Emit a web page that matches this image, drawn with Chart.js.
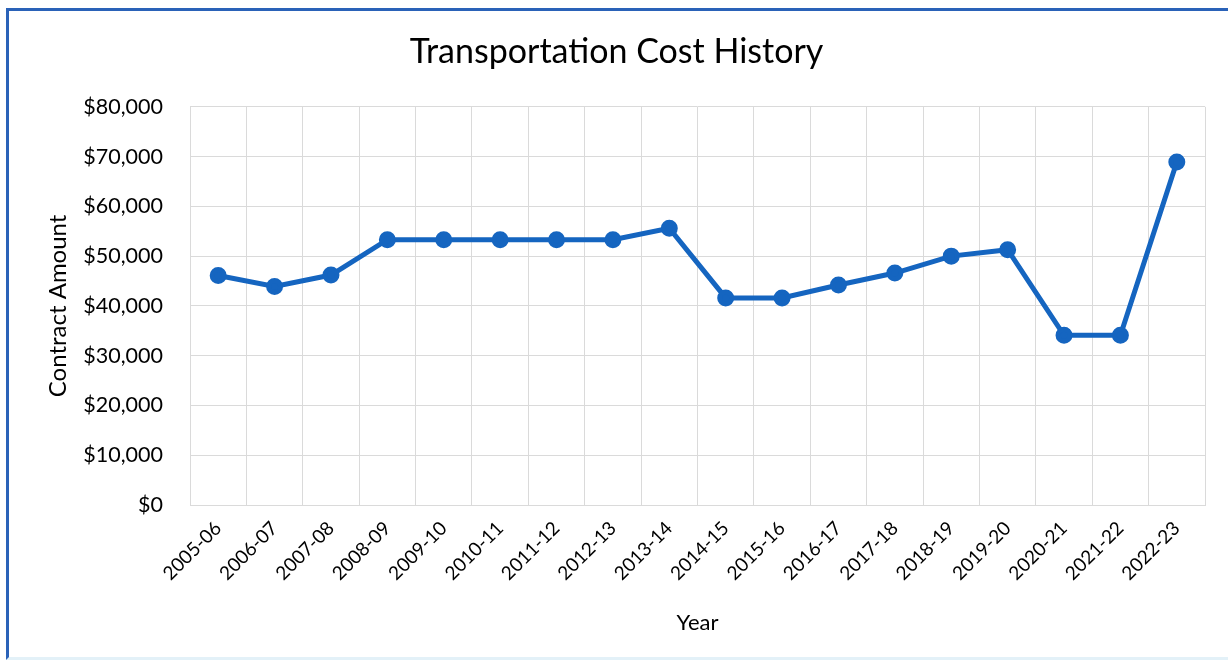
<!DOCTYPE html>
<html>
<head>
<meta charset="utf-8">
<script src="https://cdn.jsdelivr.net/npm/chart.js@4.4.1/dist/chart.umd.min.js"></script>
<style>
  html, body { margin: 0; padding: 0; background: #ffffff; overflow: hidden; }
  #wrap { position: absolute; left: 0; top: 0; width: 1228px; height: 667px; }
  #frame { position: absolute; left: 6px; top: 8px; width: 1240px; height: 652px;
           border-top: 3px solid #2a62b8; border-left: 3px solid #2a62b8;
           border-bottom: 3px solid #e3f1f8; box-sizing: border-box; pointer-events: none; }
</style>
</head>
<body>
<div id="wrap"><canvas id="c" width="1228" height="667"></canvas></div>
<div id="frame"></div>
<script>
const chartTitle = "Transportation Cost History";
const xAxisTitle = "Year";
const yAxisTitle = "Contract Amount";
const years = ["2005-06","2006-07","2007-08","2008-09","2009-10","2010-11","2011-12","2012-13","2013-14","2014-15","2015-16","2016-17","2017-18","2018-19","2019-20","2020-21","2021-22","2022-23"];
const contractAmounts = [46100, 43900, 46200, 53300, 53300, 53300, 53300, 53300, 55600, 41600, 41600, 44200, 46600, 50000, 51300, 34100, 34100, 68900];
const yMin = 0, yMax = 80000, yStep = 10000;

const FONT = "Lato, 'Open Sans', 'DejaVu Sans', sans-serif";
const lineColor = "#1565c0";
const gridColor = "#dadada";

new Chart(document.getElementById("c"), {
  type: "line",
  data: {
    labels: years,
    datasets: [{
      label: yAxisTitle,
      data: contractAmounts,
      borderColor: lineColor,
      backgroundColor: lineColor,
      borderWidth: 5,
      pointRadius: 6,
      pointBackgroundColor: lineColor,
      pointBorderColor: lineColor,
      tension: 0,
      fill: false
    }]
  },
  options: {
    responsive: false,
    animation: false,
    devicePixelRatio: 1,
    layout: { padding: { left: 28, right: 23, top: 0, bottom: 10 } },
    plugins: {
      legend: { display: false },
      tooltip: { enabled: false },
      title: {
        display: true,
        text: chartTitle,
        color: "#000000",
        font: { family: FONT, size: 34, weight: "normal" },
        padding: { top: 32, bottom: 34 }
      }
    },
    scales: {
      x: {
        offset: true,
        grid: { color: gridColor, offset: true, drawTicks: false, lineWidth: 1 },
        border: { color: gridColor },
        ticks: {
          color: "#000000",
          font: { family: FONT, size: 19 },
          maxRotation: 45, minRotation: 45, autoSkip: false, padding: 12
        },
        title: {
          display: true, text: xAxisTitle, color: "#000000",
          font: { family: FONT, size: 22 },
          padding: { top: 0, bottom: 21 }
        },
        afterFit: (s) => { s.height = 667 - 10 - 505; }
      },
      y: {
        min: yMin, max: yMax,
        grid: { color: gridColor, drawTicks: false, lineWidth: 1 },
        border: { display: false },
        ticks: {
          stepSize: yStep,
          color: "#000000",
          font: { family: FONT, size: 21.5 },
          padding: 27,
          callback: (v) => "$" + Number(v).toLocaleString("en-US")
        },
        title: {
          display: true, text: yAxisTitle, color: "#000000",
          font: { family: FONT, size: 24 },
          padding: { top: 16, bottom: 0 }
        },
        afterFit: (s) => { s.width = 190 - 28; }
      }
    }
  }
});
</script>
</body>
</html>
